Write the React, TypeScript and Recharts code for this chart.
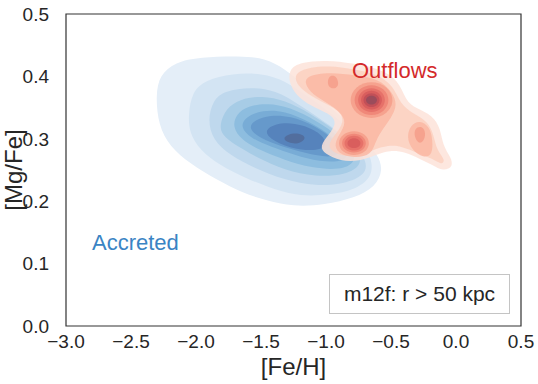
import { ScatterChart, Scatter, XAxis, YAxis, ReferenceArea, ReferenceDot } from "recharts";

type Pt = [number, number];

const xTicks = [-3, -2.5, -2, -1.5, -1, -0.5, 0, 0.5];
const yTicks = [0, 0.1, 0.2, 0.3, 0.4, 0.5];

// Blues, light -> dark
const blueColors = ["#e4eef8", "#d3e4f3", "#bfd8ed", "#a7cce6", "#8dbddf", "#78acd6", "#6699cb", "#5683bc", "#526e9e"];
// Reds, light -> dark
const redColors = ["#fde3d9", "#fcd0c0", "#fab7a3", "#f59e8a", "#ee8475", "#e46d66", "#d65a5c", "#bd4d57", "#944b5c"];

// accreted stars, contour outlines ([Fe/H], [Mg/Fe])
const blue1: Pt[] = [
  [-2.31, 0.37], [-2.28, 0.402], [-2.16, 0.423], [-1.97, 0.431], [-1.66, 0.433], [-1.47, 0.429],
  [-1.32, 0.413], [-1.12, 0.378], [-0.89, 0.338], [-0.7, 0.298], [-0.6, 0.274], [-0.56, 0.25],
  [-0.62, 0.223], [-0.78, 0.205], [-1.01, 0.194], [-1.25, 0.191], [-1.47, 0.202], [-1.64, 0.213],
  [-1.84, 0.234], [-2.05, 0.261], [-2.2, 0.287], [-2.29, 0.322],
];
const blue2: Pt[] = [
  [-2.06, 0.338], [-2.03, 0.375], [-1.93, 0.394], [-1.72, 0.405], [-1.49, 0.405], [-1.32, 0.394],
  [-1.12, 0.365], [-0.89, 0.33], [-0.72, 0.293], [-0.64, 0.266], [-0.65, 0.237], [-0.78, 0.218],
  [-0.97, 0.21], [-1.2, 0.208], [-1.39, 0.218], [-1.62, 0.237], [-1.82, 0.258], [-1.97, 0.282],
  [-2.05, 0.309],
];
const blue3: Pt[] = [
  [-1.91, 0.33], [-1.87, 0.362], [-1.78, 0.377], [-1.58, 0.383], [-1.39, 0.378], [-1.2, 0.354],
  [-0.97, 0.322], [-0.78, 0.29], [-0.68, 0.263], [-0.7, 0.242], [-0.85, 0.228], [-1.08, 0.224],
  [-1.32, 0.234], [-1.55, 0.253], [-1.74, 0.274], [-1.87, 0.298],
];
const blue4: Pt[] = [
  [-1.82, 0.322], [-1.77, 0.349], [-1.66, 0.364], [-1.49, 0.369], [-1.32, 0.362], [-1.12, 0.341],
  [-0.91, 0.311], [-0.75, 0.282], [-0.72, 0.258], [-0.85, 0.242], [-1.08, 0.239], [-1.32, 0.25],
  [-1.52, 0.269], [-1.7, 0.29], [-1.8, 0.306],
];
const blue5: Pt[] = [
  [-1.72, 0.319], [-1.69, 0.34], [-1.6, 0.353], [-1.45, 0.357], [-1.28, 0.351], [-1.08, 0.33],
  [-0.89, 0.303], [-0.78, 0.279], [-0.78, 0.261], [-0.89, 0.25], [-1.11, 0.253], [-1.32, 0.266],
  [-1.51, 0.282], [-1.65, 0.298],
];
const blue6: Pt[] = [
  [-1.66, 0.319], [-1.62, 0.335], [-1.49, 0.346], [-1.32, 0.345], [-1.12, 0.327], [-0.93, 0.301],
  [-0.83, 0.279], [-0.85, 0.263], [-1.05, 0.263], [-1.24, 0.274], [-1.43, 0.288], [-1.58, 0.301],
];
const blue7: Pt[] = [
  [-1.6, 0.317], [-1.55, 0.33], [-1.43, 0.338], [-1.28, 0.337], [-1.08, 0.321], [-0.93, 0.298],
  [-0.88, 0.277], [-0.97, 0.269], [-1.16, 0.277], [-1.35, 0.288], [-1.51, 0.301],
];
const blue8: Pt[] = [
  [-1.492, 0.3102], [-1.396, 0.3246], [-1.24, 0.3258], [-1.084, 0.315], [-0.988, 0.297], [-1.024, 0.2814],
  [-1.192, 0.2814], [-1.36, 0.291],
];
const blue9: Pt[] = [
  [-1.34, 0.3011], [-1.265, 0.3099], [-1.1775, 0.3074], [-1.1525, 0.2999], [-1.215, 0.2911], [-1.29, 0.2936],
];

// outflow stars
const red1: Pt[] = [
  [-1.29, 0.41], [-1.2, 0.423], [-0.99, 0.426], [-0.8, 0.421], [-0.59, 0.413], [-0.44, 0.394],
  [-0.39, 0.362], [-0.31, 0.349], [-0.18, 0.338], [-0.12, 0.317], [-0.1, 0.288], [-0.04, 0.271],
  [-0.02, 0.255], [-0.1, 0.248], [-0.18, 0.258], [-0.28, 0.268], [-0.39, 0.279], [-0.51, 0.282],
  [-0.62, 0.274], [-0.74, 0.264], [-0.89, 0.264], [-1.01, 0.276], [-1.05, 0.288], [-0.98, 0.306],
  [-0.92, 0.324], [-0.95, 0.338], [-1.08, 0.349], [-1.21, 0.365], [-1.28, 0.386],
];
const red2: Pt[] = [
  [-1.23, 0.407], [-1.12, 0.415], [-0.97, 0.417], [-0.8, 0.412], [-0.61, 0.404], [-0.48, 0.385],
  [-0.43, 0.356], [-0.33, 0.34], [-0.22, 0.329], [-0.17, 0.306], [-0.15, 0.282], [-0.08, 0.266],
  [-0.11, 0.258], [-0.18, 0.268], [-0.29, 0.277], [-0.42, 0.288], [-0.52, 0.29], [-0.64, 0.282],
  [-0.75, 0.272], [-0.88, 0.272], [-0.97, 0.282], [-0.98, 0.293], [-0.92, 0.309], [-0.86, 0.327],
  [-0.89, 0.345], [-1.05, 0.361], [-1.18, 0.377], [-1.24, 0.393],
];
const red3Main: Pt[] = [
  [-1.16, 0.401], [-0.97, 0.407], [-0.78, 0.402], [-0.59, 0.396], [-0.49, 0.375], [-0.45, 0.354],
  [-0.5, 0.333], [-0.56, 0.317], [-0.62, 0.296], [-0.65, 0.274], [-0.78, 0.269], [-0.91, 0.276],
  [-0.94, 0.293], [-0.88, 0.312], [-0.84, 0.33], [-0.93, 0.351], [-1.08, 0.367], [-1.16, 0.385],
];
const red3Right: Pt[] = [
  [-0.35, 0.322], [-0.28, 0.33], [-0.2, 0.319], [-0.18, 0.298], [-0.18, 0.274], [-0.25, 0.269],
  [-0.34, 0.282], [-0.38, 0.303],
];
const red4Right: Pt[] = [
  [-0.32, 0.317], [-0.26, 0.321], [-0.23, 0.309], [-0.25, 0.295], [-0.29, 0.292], [-0.32, 0.303],
];
const red4Top: Pt[] = [
  [-0.97, 0.402], [-0.92, 0.401], [-0.9, 0.388], [-0.92, 0.38], [-0.98, 0.381], [-0.99, 0.393],
];
const red4Main: Pt[] = [
  [-0.828, 0.362], [-0.776, 0.3845], [-0.65, 0.3937], [-0.524, 0.3845], [-0.472, 0.362], [-0.524, 0.3395], [-0.65, 0.3303], [-0.776, 0.3395],
];
const red5Main: Pt[] = [
  [-0.794, 0.362], [-0.752, 0.3808], [-0.65, 0.3884], [-0.548, 0.3808], [-0.506, 0.362], [-0.548, 0.3432], [-0.65, 0.3356], [-0.752, 0.3432],
];
const red6Main: Pt[] = [
  [-0.764, 0.362], [-0.731, 0.377], [-0.65, 0.3831], [-0.569, 0.377], [-0.536, 0.362], [-0.569, 0.347], [-0.65, 0.3409], [-0.731, 0.347],
];
const red7Main: Pt[] = [
  [-0.739, 0.362], [-0.713, 0.3739], [-0.65, 0.3787], [-0.587, 0.3739], [-0.561, 0.362], [-0.587, 0.3501], [-0.65, 0.3453], [-0.713, 0.3501],
];
const red8Main: Pt[] = [
  [-0.718, 0.362], [-0.698, 0.3707], [-0.65, 0.3743], [-0.602, 0.3707], [-0.582, 0.362], [-0.602, 0.3533], [-0.65, 0.3497], [-0.698, 0.3533],
];
const red9Main: Pt[] = [
  [-0.697, 0.362], [-0.683, 0.3676], [-0.65, 0.3699], [-0.617, 0.3676], [-0.603, 0.362], [-0.617, 0.3564], [-0.65, 0.3541], [-0.683, 0.3564],
];
const red4Low: Pt[] = [
  [-0.912, 0.293], [-0.875, 0.308], [-0.785, 0.3141], [-0.695, 0.308], [-0.658, 0.293], [-0.695, 0.278], [-0.785, 0.2719], [-0.875, 0.278],
];
const red5Low: Pt[] = [
  [-0.886, 0.293], [-0.857, 0.3049], [-0.785, 0.3097], [-0.713, 0.3049], [-0.684, 0.293], [-0.713, 0.2811], [-0.785, 0.2763], [-0.857, 0.2811],
];
const red6Low: Pt[] = [
  [-0.865, 0.293], [-0.842, 0.3024], [-0.785, 0.3062], [-0.728, 0.3024], [-0.705, 0.293], [-0.728, 0.2836], [-0.785, 0.2798], [-0.842, 0.2836],
];
const red7Low: Pt[] = [
  [-0.84, 0.293], [-0.824, 0.2992], [-0.785, 0.3018], [-0.746, 0.2992], [-0.73, 0.293], [-0.746, 0.2868], [-0.785, 0.2842], [-0.824, 0.2868],
];

const RED_ALPHA = 0.85;

const layers = [
  { id: "b1", pts: blue1, color: blueColors[0], alpha: 1 },
  { id: "b2", pts: blue2, color: blueColors[1], alpha: 1 },
  { id: "b3", pts: blue3, color: blueColors[2], alpha: 1 },
  { id: "b4", pts: blue4, color: blueColors[3], alpha: 1 },
  { id: "b5", pts: blue5, color: blueColors[4], alpha: 1 },
  { id: "b6", pts: blue6, color: blueColors[5], alpha: 1 },
  { id: "b7", pts: blue7, color: blueColors[6], alpha: 1 },
  { id: "b8", pts: blue8, color: blueColors[7], alpha: 1 },
  { id: "b9", pts: blue9, color: blueColors[8], alpha: 1 },
  { id: "r1", pts: red1, color: redColors[0], alpha: RED_ALPHA },
  { id: "r2", pts: red2, color: redColors[1], alpha: RED_ALPHA },
  { id: "r3m", pts: red3Main, color: redColors[2], alpha: RED_ALPHA },
  { id: "r3r", pts: red3Right, color: redColors[2], alpha: RED_ALPHA },
  { id: "r4r", pts: red4Right, color: redColors[3], alpha: RED_ALPHA },
  { id: "r4t", pts: red4Top, color: redColors[3], alpha: RED_ALPHA },
  { id: "r4m", pts: red4Main, color: redColors[3], alpha: RED_ALPHA },
  { id: "r4l", pts: red4Low, color: redColors[3], alpha: RED_ALPHA },
  { id: "r5m", pts: red5Main, color: redColors[4], alpha: RED_ALPHA },
  { id: "r5l", pts: red5Low, color: redColors[4], alpha: RED_ALPHA },
  { id: "r6m", pts: red6Main, color: redColors[5], alpha: RED_ALPHA },
  { id: "r6l", pts: red6Low, color: redColors[5], alpha: RED_ALPHA },
  { id: "r7m", pts: red7Main, color: redColors[6], alpha: RED_ALPHA },
  { id: "r7l", pts: red7Low, color: redColors[6], alpha: RED_ALPHA },
  { id: "r8m", pts: red8Main, color: redColors[7], alpha: RED_ALPHA },
  { id: "r9m", pts: red9Main, color: redColors[8], alpha: RED_ALPHA },
];

const FONT = '"Liberation Sans", Arial, sans-serif';
const TEXT = "#262626";

const toData = (p: Pt[]) => p.map(([x, y]) => ({ x, y }));
const noDot = () => <g />;
const fmt = (v: number) => v.toFixed(1).replace("-", "\u2212");

export default function App() {
  return (
    <div style={{ position: "absolute", left: 0, top: 0, width: 538, height: 384, background: "#fff", fontFamily: FONT }}>
      <ScatterChart width={538} height={384} margin={{ top: 14, right: 17, bottom: 0, left: 0 }} style={{ fontFamily: FONT }}>
        <XAxis
          type="number"
          dataKey="x"
          domain={[-3, 0.5]}
          ticks={xTicks}
          interval={0}
          tickFormatter={fmt}
          height={58}
          axisLine={false}
          tickLine={false}
          tickSize={0}
          tickMargin={9}
          tick={{ fill: TEXT, fontSize: 19 }}
          allowDataOverflow
          label={{ value: "[Fe/H]", position: "insideBottom", offset: 9, fill: TEXT, fontSize: 24 }}
        />
        <YAxis
          type="number"
          dataKey="y"
          domain={[0, 0.5]}
          ticks={yTicks}
          interval={0}
          tickFormatter={fmt}
          width={66}
          axisLine={false}
          tickLine={false}
          tickSize={0}
          tickMargin={17}
          tick={{ fill: TEXT, fontSize: 19 }}
          allowDataOverflow
          label={{ value: "[Mg/Fe]", angle: -90, position: "insideLeft", offset: 13, textAnchor: "middle", fill: TEXT, fontSize: 24 }}
        />
        {layers.map((l) => (
          <Scatter
            key={l.id}
            name={l.id}
            data={toData(l.pts)}
            fill={l.color}
            shape={noDot}
            line={{ fill: l.color, fillOpacity: l.alpha, stroke: "none" }}
            lineType="joint"
            lineJointType="basisClosed"
            legendType="none"
            isAnimationActive={false}
          />
        ))}
        <ReferenceDot
          x={-2.8}
          y={0.135}
          r={0}
          stroke="none"
          label={{ value: "Accreted", position: "right", offset: 0, fill: "#3a84c4", fontSize: 22 }}
        />
        <ReferenceDot
          x={-0.8}
          y={0.41}
          r={0}
          stroke="none"
          label={{ value: "Outflows", position: "right", offset: 0, fill: "#d42a2a", fontSize: 22 }}
        />
        <ReferenceArea x1={-3} x2={0.5} y1={0} y2={0.5} fill="none" stroke="#333" strokeWidth={1.2} ifOverflow="visible" />
      </ScatterChart>
      <div
        style={{
          position: "absolute",
          left: 329,
          top: 274,
          width: 181,
          height: 40,
          boxSizing: "border-box",
          border: "1px solid #c4c4c4",
          background: "#fff",
          display: "flex",
          alignItems: "center",
          justifyContent: "center",
          fontSize: 21,
          color: TEXT,
        }}
      >
        m12f: r &gt; 50 kpc
      </div>
    </div>
  );
}
